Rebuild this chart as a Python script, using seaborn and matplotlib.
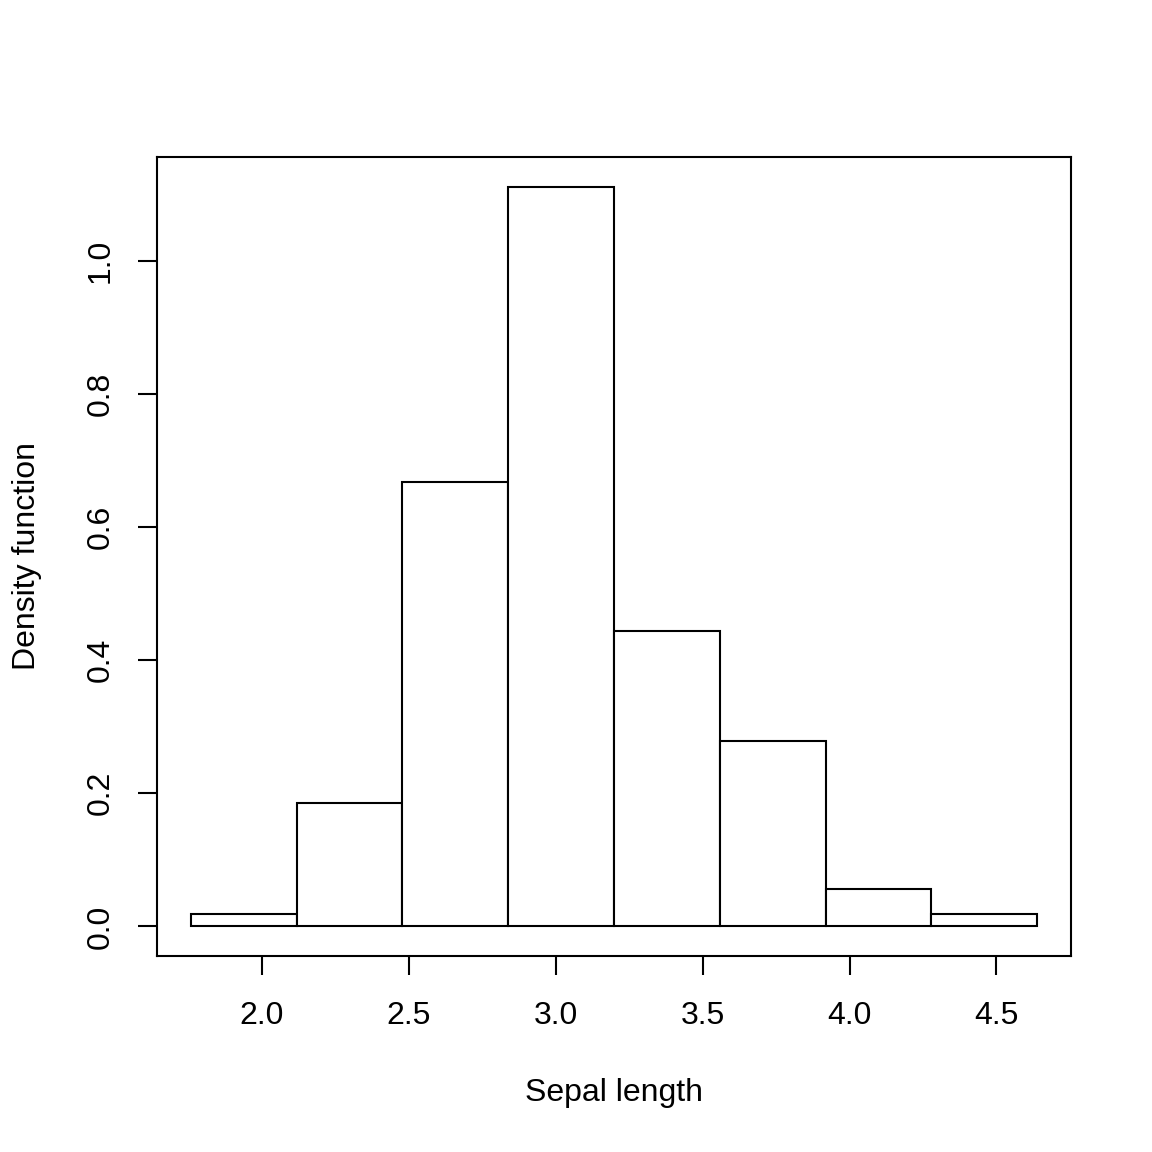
import numpy as np
import pandas as pd
import matplotlib
matplotlib.use("Agg")
import matplotlib.pyplot as plt
import seaborn as sns

# Bin edges (sepal measure) and density values
bin_edges = [1.7585, 2.1185, 2.4785, 2.8385, 3.1985, 3.5585, 3.9185, 4.2785, 4.6385]
densities = [0.0185, 0.185, 0.667, 1.111, 0.444, 0.278, 0.0556, 0.0185]
x_ticks = [2.0, 2.5, 3.0, 3.5, 4.0, 4.5]
y_ticks = [0.0, 0.2, 0.4, 0.6, 0.8, 1.0]

sns.set_style("white")
plt.rcParams['font.family'] = ['Liberation Sans', 'DejaVu Sans']
plt.rcParams['text.color'] = 'black'
plt.rcParams['axes.labelcolor'] = 'black'

centers = [(a + b) / 2 for a, b in zip(bin_edges[:-1], bin_edges[1:])]
df = pd.DataFrame({"x": centers, "w": densities})

fig = plt.figure(figsize=(11.52, 11.52), dpi=100)
ax = fig.add_axes([157/1152, 1 - 956/1152, (1071-157)/1152, (956-157)/1152])

sns.histplot(data=df, x="x", weights="w", bins=bin_edges, stat="count",
             color="white", edgecolor="black", linewidth=1.5, alpha=1, ax=ax)

span = bin_edges[-1] - bin_edges[0]
ax.set_xlim(bin_edges[0] - 0.04 * span, bin_edges[-1] + 0.04 * span)
ymax = max(densities)
ax.set_ylim(-0.04 * ymax, ymax * 1.04)

ax.set_xticks(x_ticks)
ax.set_xticklabels([f"{t:.1f}" for t in x_ticks])
ax.set_yticks(y_ticks)
ax.set_yticklabels([f"{t:.1f}" for t in y_ticks], rotation=90, va="center")

for s in ax.spines.values():
    s.set_visible(True)
    s.set_color("black")
    s.set_linewidth(1.5)

ax.tick_params(axis="both", direction="out", length=13.5, width=1.5,
               labelsize=23, color="black", labelcolor="black", pad=19,
               bottom=True, left=True)
ax.tick_params(axis="y", pad=16)

ax.set_xlabel("Sepal length", fontsize=23, labelpad=34, color="black")
ax.set_ylabel("Density function", fontsize=23, labelpad=32, color="black")

fig.savefig("out.png", dpi=100, facecolor="white")
